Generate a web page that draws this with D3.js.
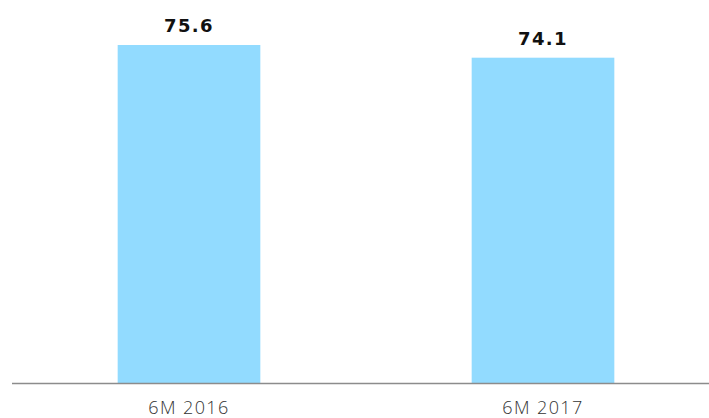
<!DOCTYPE html>
<html>
<head>
<meta charset="utf-8">
<script src="https://cdn.jsdelivr.net/npm/d3@7/dist/d3.min.js"></script>
<style>
  body { margin: 0; background: #fff; }
  .value { font-family: "DejaVu Sans", sans-serif; font-weight: bold; font-size: 18px; letter-spacing: 1.4px; fill: #111; }
  .cat { font-family: "Open Sans", sans-serif; font-weight: 300; font-size: 18px; letter-spacing: 1.4px; fill: #333; }
</style>
</head>
<body>
<div id="chart"></div>
<script>
var categories = ["6M 2016", "6M 2017"];
var values = [75.6, 74.1];

var width = 709, height = 418;
var baseY = 383;

var svg = d3.select("#chart").append("svg")
    .attr("width", width)
    .attr("height", height);

var x = d3.scaleBand()
    .domain(categories)
    .range([12, 720])
    .paddingInner(0.597)
    .paddingOuter(0.2985);

// baseline is not at zero in the original
var y = d3.scaleLinear()
    .domain([35.66, 75.6])
    .range([baseY, 45]);

svg.selectAll("rect.bar")
    .data(values)
    .enter().append("rect")
    .attr("class", "bar")
    .attr("x", function(d, i) { return x(categories[i]); })
    .attr("y", function(d) { return y(d); })
    .attr("width", x.bandwidth())
    .attr("height", function(d) { return baseY - y(d); })
    .attr("fill", "#92dbff");

svg.selectAll("text.value")
    .data(values)
    .enter().append("text")
    .attr("class", "value")
    .attr("x", function(d, i) { return x(categories[i]) + x.bandwidth() / 2; })
    .attr("y", function(d) { return y(d) - 13; })
    .attr("text-anchor", "middle")
    .text(function(d) { return d.toFixed(1); });

svg.append("line")
    .attr("x1", 12).attr("x2", width)
    .attr("y1", baseY + 0.5).attr("y2", baseY + 0.5)
    .attr("stroke", "#8c8c8c")
    .attr("stroke-width", 1.5);

svg.selectAll("text.cat")
    .data(categories)
    .enter().append("text")
    .attr("class", "cat")
    .attr("x", function(d) { return x(d) + x.bandwidth() / 2; })
    .attr("y", 414)
    .attr("text-anchor", "middle")
    .text(function(d) { return d; });
</script>
</body>
</html>
